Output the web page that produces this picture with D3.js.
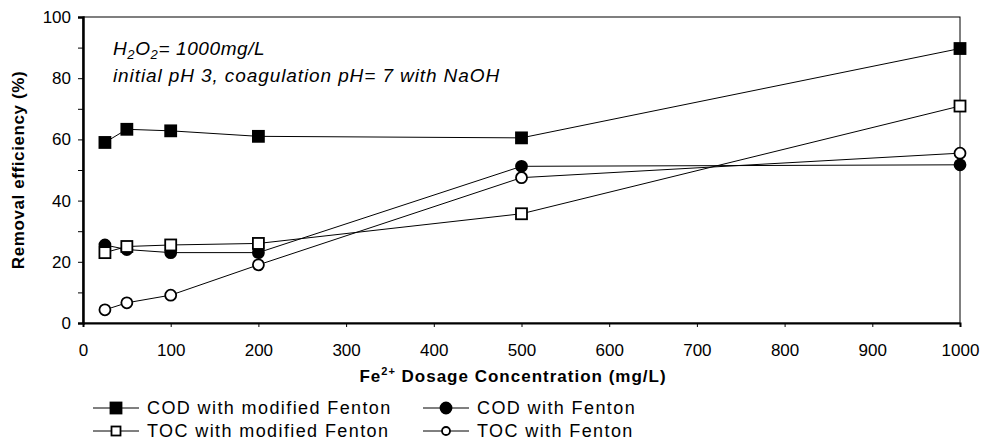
<!DOCTYPE html>
<html><head><meta charset="utf-8">
<script src="https://cdn.jsdelivr.net/npm/d3@7"></script>
<style>body{margin:0;background:#fff}svg{display:block}text{font-family:"Liberation Sans",Arial,sans-serif;fill:#000}</style>
</head><body><svg id="c" width="982" height="447"></svg>
<script>
const dosage = [25, 50, 100, 200, 500, 1000];
const codModified = [59, 63.3, 62.8, 61, 60.5, 89.7];
const tocModified = [23, 25, 25.5, 26, 35.7, 70.9];
const codFenton = [25.5, 24, 23, 23, 51.2, 51.7];
const tocFenton = [4.3, 6.6, 9.1, 19, 47.5, 55.5];
const xTicks = [0,100,200,300,400,500,600,700,800,900,1000];
const yTicks = [0,20,40,60,80,100];
const seriesNames = ["COD with modified Fenton","COD with Fenton","TOC with modified Fenton","TOC with Fenton"];

const svg = d3.select("#c");
const L=83, R=960, T=17, B=323;
const x = d3.scaleLinear().domain([0,1000]).range([L,R]);
const y = d3.scaleLinear().domain([0,100]).range([B,T]);

svg.append("rect").attr("x",L).attr("y",T).attr("width",R-L).attr("height",B-T)
  .attr("fill","none").attr("stroke","#000").attr("stroke-width",1);

const ya = svg.append("g").attr("transform",`translate(${L},0)`)
  .call(d3.axisLeft(y).tickValues(d3.range(0,101,10)).tickSize(5).tickFormat(d=>yTicks.includes(d)?d:""));
ya.select(".domain").attr("stroke-width",2.5);
ya.selectAll("text").attr("font-size",17).attr("x",-12).attr("font-family","Liberation Sans, Arial, sans-serif");

const xa = svg.append("g").attr("transform",`translate(0,${B})`)
  .call(d3.axisBottom(x).tickValues(xTicks).tickSize(4).tickPadding(17).tickFormat(d3.format("d")));
xa.select(".domain").attr("stroke-width",2);
xa.selectAll("text").attr("font-size",17).attr("font-family","Liberation Sans, Arial, sans-serif");

svg.append("text").attr("transform","translate(24,170) rotate(-90)").attr("text-anchor","middle")
  .attr("font-size",17).attr("font-weight","bold").attr("letter-spacing",0.6).text("Removal efficiency (%)");
const xt = svg.append("text").attr("x",513).attr("y",382).attr("text-anchor","middle")
  .attr("font-size",17).attr("font-weight","bold").attr("letter-spacing",1);
xt.append("tspan").text("Fe");
xt.append("tspan").attr("font-size",11).attr("dy",-7).text("2+");
xt.append("tspan").attr("dy",7).text(" Dosage Concentration (mg/L)");

const a1 = svg.append("text").attr("x",113).attr("y",55).attr("font-size",19).attr("font-style","italic").attr("letter-spacing",0.6);
a1.append("tspan").text("H");
a1.append("tspan").attr("font-size",13).attr("dy",4).text("2");
a1.append("tspan").attr("dy",-4).text("O");
a1.append("tspan").attr("font-size",13).attr("dy",4).text("2");
a1.append("tspan").attr("dy",-4).text("= 1000mg/L");
svg.append("text").attr("x",113).attr("y",82).attr("font-size",19).attr("font-style","italic").attr("letter-spacing",0.9)
  .text("initial pH 3, coagulation pH= 7 with NaOH");

const series = [
  {name:seriesNames[0], vals:codModified, shape:"square", fill:"#000"},
  {name:seriesNames[1], vals:codFenton, shape:"circle", fill:"#000"},
  {name:seriesNames[2], vals:tocModified, shape:"square", fill:"#fff"},
  {name:seriesNames[3], vals:tocFenton, shape:"circle", fill:"#fff"}
];
const line = d3.line().x((d,i)=>x(dosage[i])).y(d=>y(d));
function marker(g, shape, fill, cx, cy, s){
  if(shape==="square") g.append("rect").attr("x",cx-s/2).attr("y",cy-s/2).attr("width",s).attr("height",s)
     .attr("fill",fill).attr("stroke","#000").attr("stroke-width",1.8);
  else g.append("circle").attr("cx",cx).attr("cy",cy).attr("r",s/2).attr("fill",fill)
     .attr("stroke","#000").attr("stroke-width",1.8);
}
series.forEach(s=>{
  svg.append("path").attr("d",line(s.vals)).attr("fill","none").attr("stroke","#000").attr("stroke-width",1);
});
series.forEach(s=>{
  const g = svg.append("g");
  s.vals.forEach((v,i)=>marker(g,s.shape,s.fill,x(dosage[i]),y(v),11));
});

const legPos = [[93,408],[423,408],[93,431],[423,431]];
series.forEach((s,i)=>{
  const [lx,ly]=legPos[i];
  const g = svg.append("g");
  g.append("line").attr("x1",lx).attr("x2",lx+46).attr("y1",ly).attr("y2",ly).attr("stroke","#000").attr("stroke-width",1);
  marker(g,s.shape,s.fill,lx+23,ly,s.shape==="square"?(s.fill==="#000"?11:9):(s.fill==="#000"?11:8));
  g.append("text").attr("x",lx+54).attr("y",ly+6).attr("font-size",18).attr("letter-spacing",1.4).text(s.name);
});
</script></body></html>
